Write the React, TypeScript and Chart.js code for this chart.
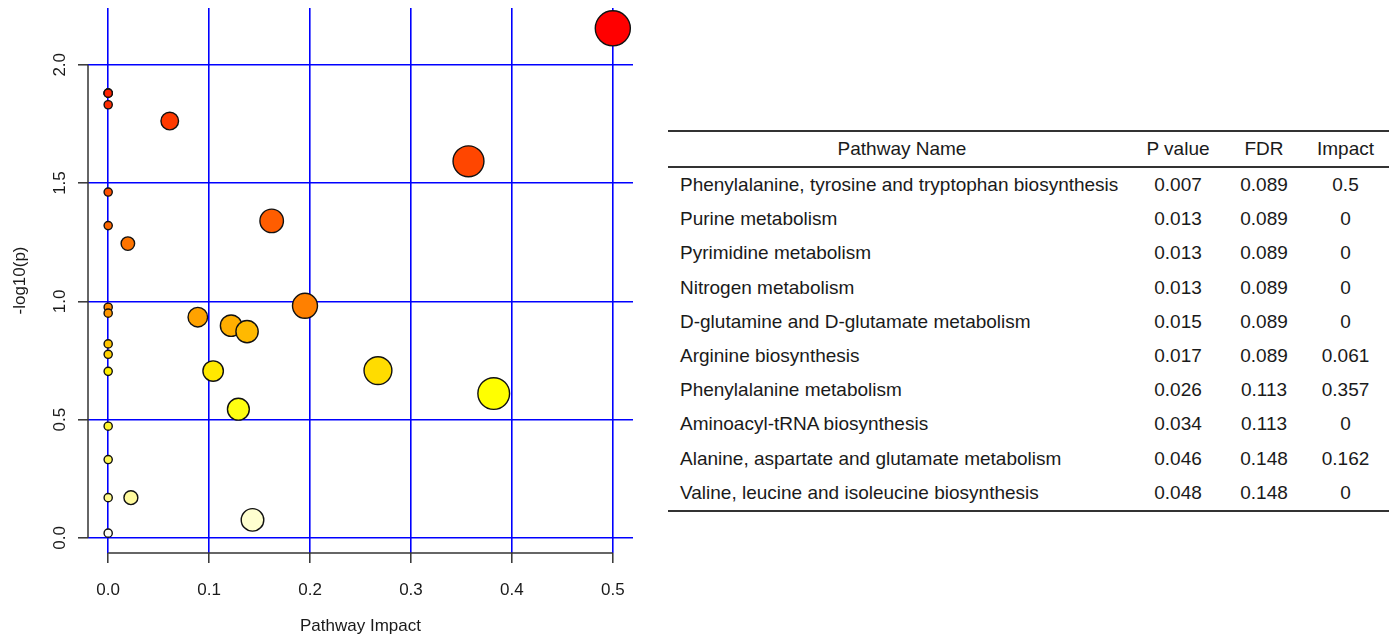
import React, { useEffect, useRef } from "react";
import { Chart, registerables } from "chart.js";

Chart.register(...registerables);

// ---- Bubble chart data ----
const impactX = [
  0.5, 0, 0, 0, 0, 0.061, 0.357, 0, 0.162, 0, 0.0195, 0.195, 0, 0, 0.0888,
  0.1218, 0.1376, 0, 0, 0.2673, 0.104, 0, 0.382, 0.129, 0, 0, 0, 0.0225, 0.143, 0,
];
const logP = [
  2.154, 1.88, 1.88, 1.88, 1.831, 1.762, 1.592, 1.462, 1.34, 1.32, 1.244, 0.981,
  0.975, 0.95, 0.933, 0.897, 0.872, 0.82, 0.776, 0.707, 0.705, 0.704, 0.61, 0.544,
  0.472, 0.331, 0.17, 0.17, 0.076, 0.02,
];
const pointColors = [
  "#FF0000", "#FF0C00", "#FF1700", "#FF2300", "#FF2E00", "#FF3A00", "#FF4600",
  "#FF5100", "#FF5D00", "#FF6800", "#FF7400", "#FF8000", "#FF8B00", "#FF9700",
  "#FFA200", "#FFAE00", "#FFB900", "#FFC500", "#FFD100", "#FFDC00", "#FFE800",
  "#FFEE00", "#FFFF00", "#FFFF12", "#FFF52E", "#FFF855", "#FFF98C", "#FFFA9E",
  "#FFFFCF", "#FFFFF0",
];
const xTicks = [0, 0.1, 0.2, 0.3, 0.4, 0.5];
const yTicks = [0, 0.5, 1.0, 1.5, 2.0];
const xTitle = "Pathway Impact";
const yTitle = "-log10(p)";

// ---- Table data ----
const tableHeaders = ["Pathway Name", "P value", "FDR", "Impact"];
const pathwayNames = [
  "Phenylalanine, tyrosine and tryptophan biosynthesis",
  "Purine metabolism",
  "Pyrimidine metabolism",
  "Nitrogen metabolism",
  "D-glutamine and D-glutamate metabolism",
  "Arginine biosynthesis",
  "Phenylalanine metabolism",
  "Aminoacyl-tRNA biosynthesis",
  "Alanine, aspartate and glutamate metabolism",
  "Valine, leucine and isoleucine biosynthesis",
];
const pValues = ["0.007", "0.013", "0.013", "0.013", "0.015", "0.017", "0.026", "0.034", "0.046", "0.048"];
const fdrValues = ["0.089", "0.089", "0.089", "0.089", "0.089", "0.089", "0.113", "0.113", "0.148", "0.148"];
const impactValues = ["0.5", "0", "0", "0", "0", "0.061", "0.357", "0", "0.162", "0"];

const FONT = '"Liberation Sans", Arial, Helvetica, sans-serif';
const TEXT = "#1a1a1a";
const GRID = "#0000FF";
const AXIS = "#333";

// bubble radius encodes impact (visual scale)
const radiusFor = (impact: number) => 4.1 + 19.0 * Math.sqrt(impact);

const rStyleAxes = {
  id: "rStyleAxes",
  afterDraw(chart: any) {
    const { ctx, chartArea, scales } = chart;
    const xs = scales.x;
    const ys = scales.y;
    ctx.save();
    ctx.strokeStyle = AXIS;
    ctx.lineWidth = 1.5;
    ctx.beginPath();
    ctx.moveTo(chartArea.left, ys.getPixelForValue(yTicks[0]));
    ctx.lineTo(chartArea.left, ys.getPixelForValue(yTicks[yTicks.length - 1]));
    ctx.stroke();
    ctx.beginPath();
    ctx.moveTo(xs.getPixelForValue(xTicks[0]), chartArea.bottom);
    ctx.lineTo(xs.getPixelForValue(xTicks[xTicks.length - 1]), chartArea.bottom);
    ctx.stroke();

    ctx.fillStyle = TEXT;
    ctx.font = `17px ${FONT}`;
    ctx.textAlign = "center";
    ctx.textBaseline = "middle";
    yTicks.forEach((v) => {
      const py = ys.getPixelForValue(v);
      ctx.save();
      ctx.translate(chartArea.left - 28, py);
      ctx.rotate(-Math.PI / 2);
      ctx.fillText(v.toFixed(1), 0, 0);
      ctx.restore();
    });
    ctx.save();
    ctx.translate(20, (chartArea.top + chartArea.bottom) / 2);
    ctx.rotate(-Math.PI / 2);
    ctx.fillText(yTitle, 0, 0);
    ctx.restore();
    ctx.fillText(xTitle, (chartArea.left + chartArea.right) / 2, chartArea.bottom + 73);
    ctx.restore();
  },
};

function BubbleChart() {
  const ref = useRef<HTMLCanvasElement | null>(null);
  useEffect(() => {
    if (!ref.current) return;
    const points = impactX.map((x, i) => ({ x, y: logP[i], r: radiusFor(x) }));
    const chart = new Chart(ref.current, {
      type: "bubble",
      data: {
        datasets: [
          {
            data: points,
            backgroundColor: pointColors,
            borderColor: "#111",
            borderWidth: 1.4,
            clip: false,
          } as any,
        ],
      },
      options: {
        animation: false,
        responsive: false,
        devicePixelRatio: 1,
        layout: { autoPadding: false, padding: { left: 0, top: 8, right: 27, bottom: 0 } },
        plugins: { legend: { display: false }, tooltip: { enabled: false } },
        scales: {
          x: {
            type: "linear",
            min: -0.02,
            max: 0.52,
            afterBuildTicks: (axis: any) => {
              axis.ticks = xTicks.map((v) => ({ value: v }));
            },
            afterFit: (axis: any) => {
              axis.height = 83;
            },
            border: { display: false },
            grid: {
              color: GRID,
              lineWidth: 1.6,
              tickColor: AXIS,
              tickWidth: 1.5,
              tickLength: 10,
              drawTicks: true,
            },
            ticks: {
              color: TEXT,
              font: { family: FONT, size: 17 },
              padding: 17,
              maxRotation: 0,
              callback: (v: any) => Number(v).toFixed(1),
            },
          },
          y: {
            type: "linear",
            min: -0.064,
            max: 2.24,
            afterBuildTicks: (axis: any) => {
              axis.ticks = yTicks.map((v) => ({ value: v }));
            },
            afterFit: (axis: any) => {
              axis.width = 88;
            },
            border: { display: false },
            grid: {
              color: GRID,
              lineWidth: 1.6,
              tickColor: AXIS,
              tickWidth: 1.5,
              tickLength: 10,
              drawTicks: true,
            },
            ticks: { display: false },
          },
        },
      } as any,
      plugins: [rStyleAxes],
    });
    return () => chart.destroy();
  }, []);
  return <canvas ref={ref} width={660} height={636} style={{ position: "absolute", left: 0, top: 0 }} />;
}

function PathwayTable() {
  const cols = [
    { w: 468, align: "left" as const, pad: 12 },
    { w: 84, align: "center" as const, pad: 0 },
    { w: 88, align: "center" as const, pad: 0 },
    { w: 75, align: "center" as const, pad: 0 },
  ];
  const rowH = 34.2;
  const cell = (text: string, ci: number, header: boolean) => (
    <div
      key={ci}
      style={{
        width: cols[ci].w,
        textAlign: header && ci === 0 ? "center" : cols[ci].align,
        paddingLeft: header ? 0 : cols[ci].pad,
        boxSizing: "border-box",
        whiteSpace: "nowrap",
      }}
    >
      {text}
    </div>
  );
  return (
    <div
      style={{
        position: "absolute",
        left: 668,
        top: 130,
        width: 721,
        fontFamily: FONT,
        fontSize: 19,
        color: TEXT,
      }}
    >
      <div style={{ borderTop: `2px solid ${AXIS}`, borderBottom: `2px solid ${AXIS}`, height: 34, display: "flex", alignItems: "center" }}>
        {tableHeaders.map((h, i) => cell(h, i, true))}
      </div>
      <div style={{ borderBottom: `2px solid ${AXIS}` }}>
        {pathwayNames.map((name, r) => (
          <div key={r} style={{ height: rowH, display: "flex", alignItems: "center" }}>
            {[name, pValues[r], fdrValues[r], impactValues[r]].map((t, i) => cell(t, i, false))}
          </div>
        ))}
      </div>
    </div>
  );
}

export default function App() {
  return (
    <div style={{ position: "absolute", left: 0, top: 0, width: 1389, height: 636, overflow: "hidden", background: "#fff" }}>
      <BubbleChart />
      <PathwayTable />
    </div>
  );
}
